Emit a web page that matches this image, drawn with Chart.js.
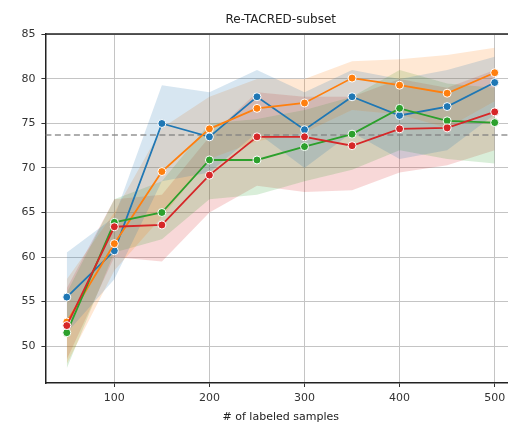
<!DOCTYPE html>
<html>
<head>
<meta charset="utf-8">
<script src="https://cdn.jsdelivr.net/npm/chart.js@4"></script>
<style>
  body { margin: 0; background: #fff; }
  #wrap { width: 508px; height: 427px; }
</style>
</head>
<body>
<div id="wrap"><canvas id="chart" width="508" height="427"></canvas></div>
<script>
const samples = [50, 100, 150, 200, 250, 300, 350, 400, 450, 500];

const blueMean = [55.5, 60.7, 75.0, 73.5, 78.0, 74.3, 78.0, 75.9, 76.9, 79.6];
const blueLow = [51.5, 57.5, 68.5, 69.5, 74.0, 70.0, 74.0, 71.0, 72.0, 76.0];
const blueHigh = [60.5, 64.5, 79.3, 78.5, 81.0, 78.5, 81.0, 80.0, 81.0, 82.5];

const orangeMean = [52.7, 61.5, 69.6, 74.4, 76.7, 77.3, 80.1, 79.3, 78.4, 80.7];
const orangeLow = [48.0, 58.5, 64.5, 71.0, 73.0, 74.0, 76.5, 76.0, 74.5, 77.5];
const orangeHigh = [57.5, 65.0, 74.5, 78.0, 80.0, 80.0, 82.0, 82.2, 82.7, 83.5];

const greenMean = [51.5, 63.9, 65.0, 70.9, 70.9, 72.4, 73.8, 76.7, 75.3, 75.1];
const greenLow = [47.5, 60.5, 62.0, 66.5, 67.0, 68.5, 69.8, 72.0, 71.0, 70.5];
const greenHigh = [56.0, 66.5, 68.5, 75.0, 75.5, 76.5, 78.0, 81.0, 79.5, 79.0];

const redMean = [52.3, 63.4, 63.6, 69.2, 73.5, 73.5, 72.5, 74.4, 74.5, 76.3];
const redLow = [48.5, 60.0, 59.5, 65.0, 68.0, 67.3, 67.5, 69.5, 70.3, 72.0];
const redHigh = [56.5, 66.5, 67.0, 73.5, 78.5, 78.0, 78.0, 80.0, 79.0, 81.0];

const baseline = 73.7;
const xTicks = [100, 200, 300, 400, 500];
const yTicks = [50, 55, 60, 65, 70, 75, 80, 85];
const chartTitle = "Re-TACRED-subset";
const xTitle = "# of labeled samples";

const xMin = 27.5, xMax = 514, plotMidX = 275;
const font = "'DejaVu Sans', sans-serif";

function points(values) {
  return values.map((v, i) => ({ x: samples[i], y: v }));
}

const series = [
  { mean: blueMean, low: blueLow, high: blueHigh, rgb: "31, 119, 180", order: 4 },
  { mean: orangeMean, low: orangeLow, high: orangeHigh, rgb: "255, 127, 14", order: 3 },
  { mean: greenMean, low: greenLow, high: greenHigh, rgb: "44, 160, 44", order: 2 },
  { mean: redMean, low: redLow, high: redHigh, rgb: "214, 39, 40", order: 1 },
];

const datasets = [];
series.forEach((s) => {
  // confidence band: upper edge filled down to the lower edge
  datasets.push({
    data: points(s.high),
    borderWidth: 0,
    pointRadius: 0,
    fill: "+1",
    backgroundColor: `rgba(${s.rgb}, 0.18)`,
    order: 10,
  });
  datasets.push({
    data: points(s.low),
    borderWidth: 0,
    pointRadius: 0,
    fill: false,
    order: 10,
  });
});
series.forEach((s) => {
  datasets.push({
    data: points(s.mean),
    borderColor: `rgb(${s.rgb})`,
    backgroundColor: `rgb(${s.rgb})`,
    borderWidth: 1.8,
    pointRadius: 4,
    pointBorderColor: "#fff",
    pointBorderWidth: 1,
    fill: false,
    order: s.order,
  });
});
datasets.push({
  data: [{ x: xMin, y: baseline }, { x: xMax, y: baseline }],
  borderColor: "rgba(128, 128, 128, 0.85)",
  borderWidth: 1.5,
  borderDash: [6, 3.5],
  pointRadius: 0,
  fill: false,
  order: 5,
});

const titles = {
  id: "titles",
  afterDraw(chart) {
    const { ctx, chartArea, scales } = chart;
    ctx.save();
    ctx.strokeStyle = "#222";
    ctx.lineWidth = 1.5;
    ctx.beginPath();
    ctx.moveTo(chartArea.left, chartArea.top);
    ctx.lineTo(chartArea.right, chartArea.top);
    ctx.stroke();

    const cx = scales.x.getPixelForValue(plotMidX);
    ctx.fillStyle = "#222";
    ctx.textAlign = "center";
    ctx.textBaseline = "middle";
    ctx.font = `12px ${font}`;
    ctx.fillText(chartTitle, cx, 20);
    ctx.font = `11px ${font}`;
    ctx.fillText(xTitle, cx, 417);
    ctx.restore();
  },
};

new Chart(document.getElementById("chart"), {
  type: "line",
  data: { datasets },
  options: {
    responsive: false,
    animation: false,
    layout: { autoPadding: false, padding: { top: 34, left: 0, right: 0, bottom: 0 } },
    plugins: { legend: { display: false }, tooltip: { enabled: false }, title: { display: false } },
    scales: {
      x: {
        type: "linear",
        min: xMin,
        max: xMax,
        afterBuildTicks: (scale) => { scale.ticks = xTicks.map((v) => ({ value: v })); },
        afterFit: (scale) => {
          scale.height = 44;
          scale.paddingLeft = 0;
          scale.paddingRight = 0;
        },
        grid: { color: "#c4c4c4", lineWidth: 1, tickLength: 4, tickColor: "#333" },
        border: { color: "#222", width: 1.5 },
        ticks: { color: "#333", font: { family: font, size: 11 }, padding: 5, maxRotation: 0 },
      },
      y: {
        min: 45.85,
        max: 85.05,
        afterBuildTicks: (scale) => { scale.ticks = yTicks.map((v) => ({ value: v })); },
        afterFit: (scale) => { scale.width = 45.4; },
        grid: { color: "#c4c4c4", lineWidth: 1, tickLength: 4, tickColor: "#333" },
        border: { color: "#222", width: 1.5 },
        ticks: { color: "#333", font: { family: font, size: 11 }, padding: 6 },
      },
    },
  },
  plugins: [titles],
});
</script>
</body>
</html>
